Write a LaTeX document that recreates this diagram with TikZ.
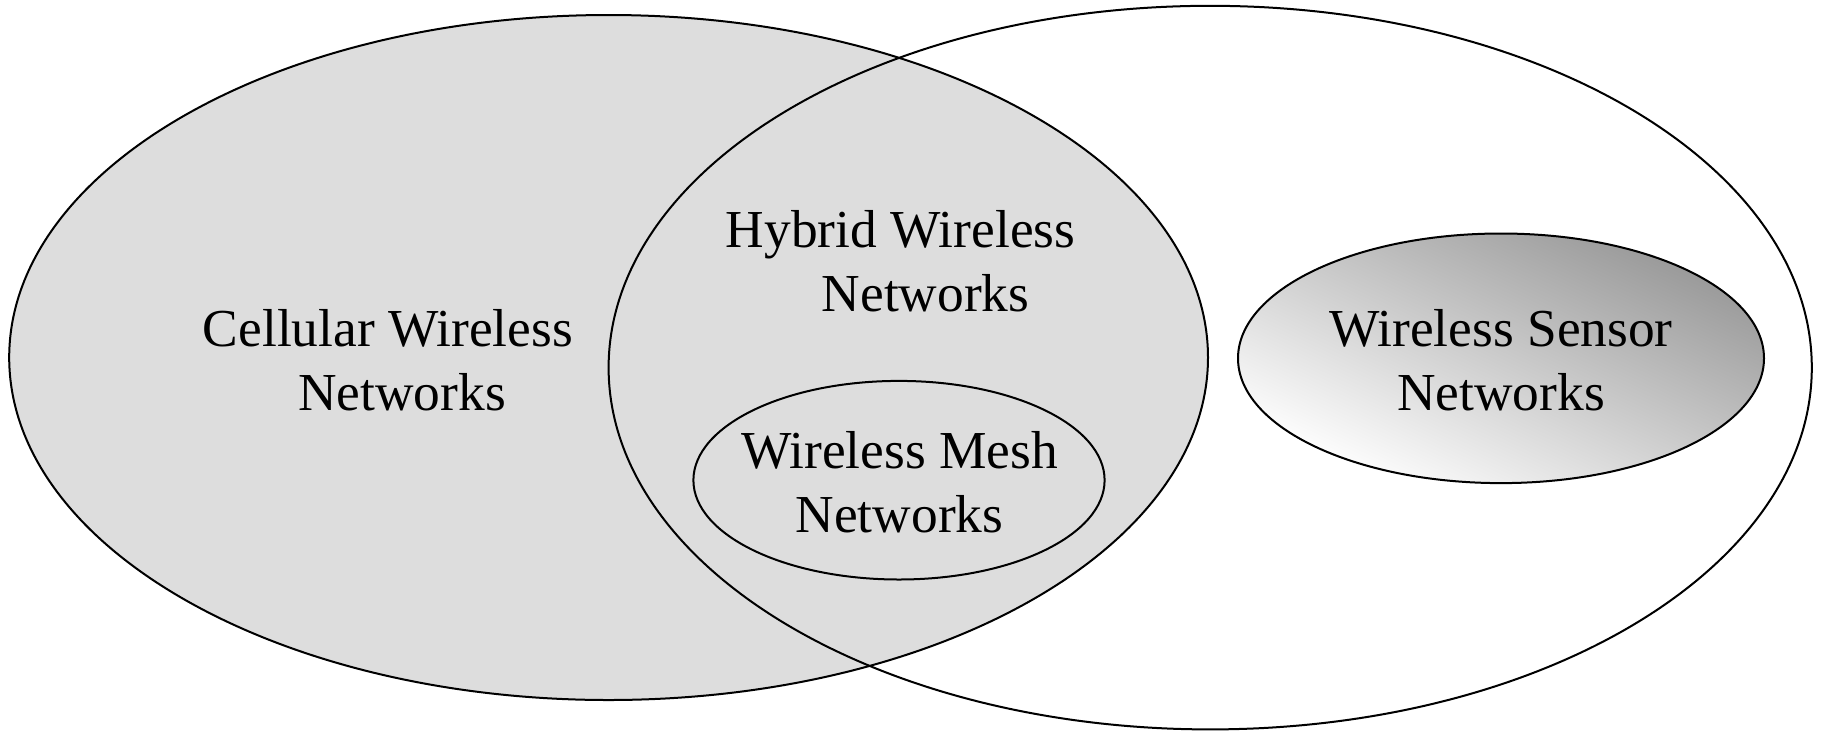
\documentclass[tikz,border=0pt]{standalone}
\usepackage{fontspec}
\setmainfont{Liberation Serif}
\definecolor{vennfill}{RGB}{221,221,221}
\definecolor{sensdark}{RGB}{155,155,155}
\definecolor{senslight}{RGB}{252,252,252}
\tikzset{
  outline/.style={draw=black,line width=1pt},
  label/.style={inner sep=0pt,align=center,font=\fontsize{26.7pt}{32pt}\selectfont},
}
\begin{document}
\begin{tikzpicture}[x=0.5pt,y=-0.5pt]
\useasboundingbox (0,0) rectangle (1821,730);
% cellular (left) ellipse fill
\fill[vennfill] (608.6,357.5) ellipse [x radius=299.7pt, y radius=171.25pt];
% right ellipse outline
\draw[outline] (1210.2,367.6) ellipse [x radius=300.8pt, y radius=180.9pt];
% left ellipse outline
\draw[outline] (608.6,357.5) ellipse [x radius=299.7pt, y radius=171.25pt];
% mesh ellipse
\draw[outline,fill=vennfill] (899,480.2) ellipse [x radius=102.8pt, y radius=49.65pt];
% sensor ellipse with diagonal gradient scaled to the shape
\begin{scope}
  \clip (1501,358.3) ellipse [x radius=131.5pt, y radius=62.4pt];
  \begin{scope}[transform canvas={shift={(1501,358.3)},xscale=131.5,yscale=62.4}]
    \shade[shading=axis,top color=sensdark,bottom color=senslight,shading angle=-45]
      (-1pt,-1pt) rectangle (1pt,1pt);
  \end{scope}
\end{scope}
\draw[outline] (1501,358.3) ellipse [x radius=131.5pt, y radius=62.4pt];
% labels
\node[label] (cell) at (388,360) {Cellular Wireless\\\hspace*{14pt}Networks};
\node[label] (hyb) at (900.6,261) {Hybrid Wireless\\\hspace*{25pt}Networks};
\node[label] (mesh) at (899.5,482) {Wireless Mesh\\Networks};
\node[label] (sens) at (1501,360) {Wireless Sensor\\Networks};
\end{tikzpicture}
\end{document}
